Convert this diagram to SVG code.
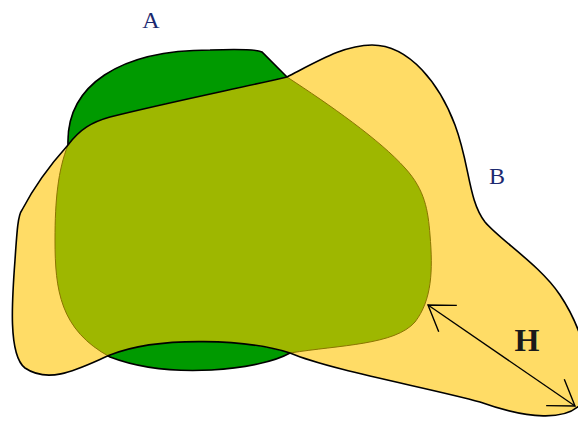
<svg xmlns="http://www.w3.org/2000/svg" width="578" height="421" viewBox="0 0 578 421">
<style>
.lbl{font-family:"Liberation Serif","DejaVu Serif",serif;text-anchor:middle;fill:#1c2a70}
.H{font-family:"Liberation Serif","DejaVu Serif",serif;text-anchor:middle;fill:#1a1a1a}
</style>
<defs>
<path id="pA" d="M68,145 C66,85 120,50 210,50 C235,49 255,49 262,52 L287,77 C330,105 380,140 405,168 C425,190 428,210 430,235 C433,270 432,300 415,322 C395,345 340,345 290,353 C260,370 170,380 110,357 C60,330 55,290 55,240 C55,200 58,170 68,145 Z"/>
<path id="pB" d="M68,145 C80,129 92,122 110,117 C170,102 240,88 287,77 C320,60 345,45 372,45 C410,45 440,85 455,125 C470,165 468,200 485,222 C500,240 540,265 560,295 C580,325 600,380 580,405 C565,420 530,420 480,402 C430,388 330,370 290,353 C250,340 160,335 110,355 C80,368 50,385 25,368 C8,355 12,300 15,260 C17,230 18,215 22,210 C35,185 50,165 68,145 Z"/>
<clipPath id="clipB"><use href="#pB"/></clipPath>
<marker id="arr" markerUnits="userSpaceOnUse" markerWidth="40" markerHeight="40" viewBox="-30 -20 32 40" refX="0" refY="0" orient="auto-start-reverse">
<path d="M-24,-16 L0,0 L-24,16" fill="none" stroke="#000" stroke-width="1.4"/>
</marker>
</defs>
<g id="A">
<use href="#pA" fill="#009a00" stroke="#000" stroke-width="1.6"/>
</g>
<g id="B">
<use href="#pB" fill="#ffdc66"/>
</g>
<g id="overlap">
<use href="#pA" clip-path="url(#clipB)" fill="#9eb700" stroke="#8a7400" stroke-width="1"/>
</g>
<g id="B-outline">
<use href="#pB" fill="none" stroke="#000" stroke-width="1.6"/>
</g>
<g id="connectors">
<line x1="428" y1="305" x2="575" y2="406" stroke="#000" stroke-width="1.3" marker-start="url(#arr)" marker-end="url(#arr)"/>
</g>
<text class="lbl" x="151" y="28" font-size="24">A</text>
<text class="lbl" x="497" y="184" font-size="24">B</text>
<text class="H" x="527" y="351" font-size="32" font-weight="bold">H</text>
</svg>
